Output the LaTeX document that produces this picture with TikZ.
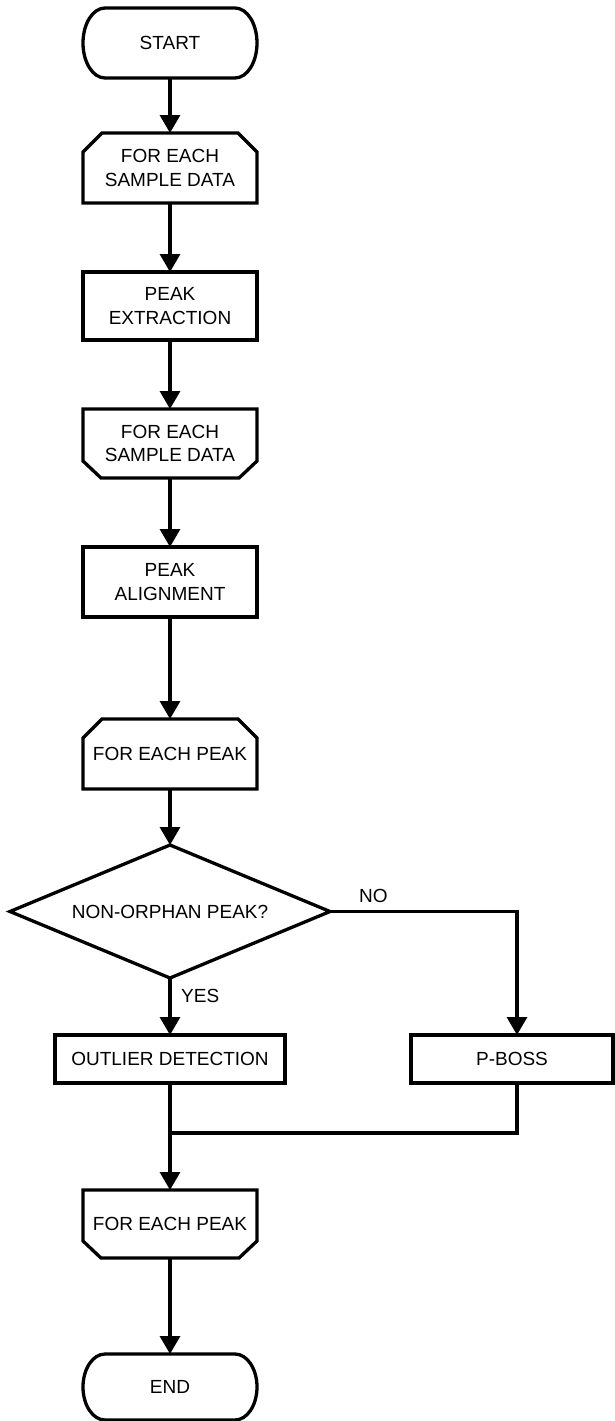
\documentclass[tikz,border=0pt]{standalone}
\usepackage{fontspec}
\setmainfont{Liberation Sans}
\usetikzlibrary{arrows.meta}

\tikzset{
  box/.style={rectangle, draw=none, outer sep=0pt, inner sep=0pt, align=center,
    font=\fontsize{19}{23.5}\selectfont},
  outline/.style={draw=black, line width=3.3pt, line join=miter},
  flow/.style={line width=3.3pt, -{Triangle[length=18pt,width=20pt]}},
  link/.style={line width=3.3pt},
  lbl/.style={font=\fontsize{19}{24}\selectfont, inner sep=0pt, anchor=west},
}

% terminal: flat top and bottom, elliptical ends (#2 = half height)
\newcommand\termshape[2]{%
  \draw[outline] ([xshift=22pt]#1.north west) -- ([xshift=-22pt]#1.north east)
    arc[start angle=90, end angle=-90, x radius=22pt, y radius=#2]
    -- ([xshift=22pt]#1.south west)
    arc[start angle=270, end angle=90, x radius=22pt, y radius=#2] -- cycle;}
% loop start: both top corners cut
\newcommand\loopopen[1]{%
  \draw[outline] ([xshift=19pt]#1.north west) -- ([xshift=-19pt]#1.north east)
    -- ([yshift=-19pt]#1.north east) -- (#1.south east) -- (#1.south west)
    -- ([yshift=-19pt]#1.north west) -- cycle;}
% loop end: both bottom corners cut
\newcommand\loopclose[1]{%
  \draw[outline] (#1.north west) -- (#1.north east)
    -- ([yshift=17pt]#1.south east) -- ([xshift=-18pt]#1.south east)
    -- ([xshift=18pt]#1.south west) -- ([yshift=17pt]#1.south west) -- cycle;}
\newcommand\plainbox[1]{%
  \draw[outline] (#1.north west) rectangle (#1.south east);}

\begin{document}
\begin{tikzpicture}[x=1pt, y=-1pt]
\useasboundingbox (0,0) rectangle (615,1421);

\node[box, minimum width=174pt, minimum height=70pt] (start) at (170,43) {START};
\node[box, minimum width=174pt, minimum height=70pt] (ls1) at (170,168) {FOR EACH\\SAMPLE DATA};
\node[box, minimum width=174pt, minimum height=68pt] (pe) at (170,306) {PEAK\\EXTRACTION};
\node[box, minimum width=174pt, minimum height=69pt] (le1) at (170,443.5) {FOR EACH\\SAMPLE DATA};
\node[box, minimum width=174pt, minimum height=70pt] (pa) at (170,582) {PEAK\\ALIGNMENT};
\node[box, minimum width=174pt, minimum height=70pt] (ls2) at (170,754) {FOR EACH PEAK};
\node[box, minimum width=320pt, minimum height=133pt] (q) at (170,911.5) {NON-ORPHAN PEAK?};
\node[box, minimum width=230pt, minimum height=48pt] (ol) at (170,1059) {OUTLIER DETECTION};
\node[box, minimum width=202pt, minimum height=48pt] (pb) at (512,1059) {P-BOSS};
\node[box, minimum width=174pt, minimum height=68pt] (le2) at (170,1224) {FOR EACH PEAK};
\node[box, minimum width=174pt, minimum height=66pt] (end) at (170,1387) {END};

\termshape{start}{35pt}
\loopopen{ls1}
\plainbox{pe}
\loopclose{le1}
\plainbox{pa}
\loopopen{ls2}
\draw[outline] (q.north) -- (q.east) -- (q.south) -- (q.west) -- cycle;
\plainbox{ol}
\plainbox{pb}
\loopclose{le2}
\termshape{end}{33pt}

\coordinate (join) at (170,1133);

\draw[flow] (start) -- (ls1);
\draw[flow] (ls1) -- (pe);
\draw[flow] (pe) -- (le1);
\draw[flow] (le1) -- (pa);
\draw[flow] (pa) -- (ls2);
\draw[flow] (ls2) -- (q);
\draw[flow] (q.south) -- (ol.north);
\draw[flow] (q.east) -| ([xshift=5pt]pb.north);
\draw[link] ([xshift=5pt]pb.south) |- (join);
\draw[flow] (ol.south) -- (le2.north);
\draw[flow] (le2) -- (end);

\node[lbl] (yes) at (181,996) {YES};
\node[lbl] (no) at (359,896) {NO};
\end{tikzpicture}
\end{document}
